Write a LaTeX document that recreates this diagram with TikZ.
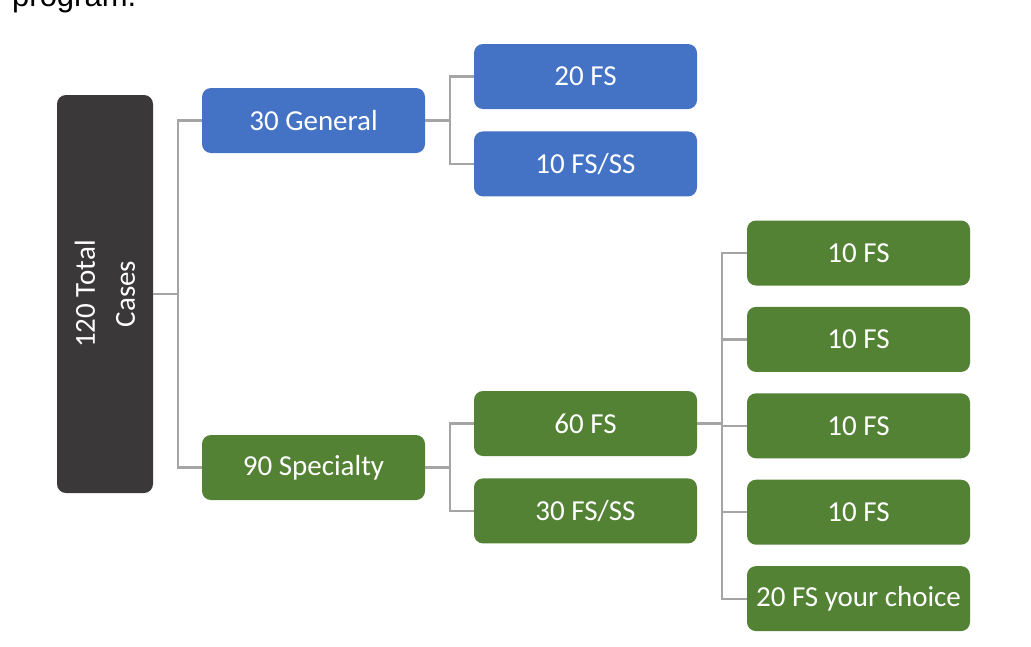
\documentclass[tikz,border=0pt]{standalone}
\usepackage{fontspec}
\setmainfont{Carlito}
\newfontfamily\captionfont{Liberation Sans}
\usetikzlibrary{positioning}
\definecolor{totalgray}{HTML}{3A3838}
\definecolor{genblue}{HTML}{4472C4}
\definecolor{specgreen}{HTML}{548235}
\definecolor{linkgray}{HTML}{A5A5A5}

\begin{document}
\begin{tikzpicture}[
  x=1pt,y=-1pt,
  box/.style={
    rounded corners=9pt,
    minimum width=223pt,
    minimum height=65pt,
    inner sep=0pt,
    text=white,
    font=\fontsize{29}{40}\selectfont,
    },
  genbox/.style={box,fill=genblue},
  specbox/.style={box,fill=specgreen},
  link/.style={draw=linkgray,line width=2.2pt}
  ]
  \clip (0,0) rectangle (1031,646);
  \node[anchor=base west,inner sep=0pt,font=\captionfont\fontsize{31}{36}\selectfont]
    (caption) at (12,6) {program.};

  \node[box,fill=totalgray,rotate=90,align=center,
    minimum width=398pt,minimum height=96pt] (total)
    at (105,294) {120 Total\\Cases};

  \node[genbox] (general) at (313.5,120.5) {30 General};
  \node[specbox] (special) at (313.5,467.5) {90 Specialty};

  \node[genbox] (g20) at (585.5,76.5) {20 FS};
  \node[genbox,below=22pt of g20] (g10) {10 FS/SS};

  \node[specbox] (s60) at (585.5,423.5) {60 FS};
  \node[specbox,below=22pt of s60] (s30) {30 FS/SS};

  \node[specbox] (r1) at (858.5,253) {10 FS};
  \node[specbox,below=21pt of r1] (r2) {10 FS};
  \node[specbox,below=21pt of r2] (r3) {10 FS};
  \node[specbox,below=21pt of r3] (r4) {10 FS};
  \node[specbox,below=21pt of r4] (r5) {20 FS your choice};

  % forks
  \coordinate (tfork) at ([xshift=25pt]total.south);
  \coordinate (gfork) at ([xshift=25pt]general.east);
  \coordinate (sfork) at ([xshift=25pt]special.east);
  \coordinate (rfork) at ([xshift=25pt]s60.east);

  \draw[link] (total.south) -- (tfork);
  \draw[link] (tfork) |- (general.west);
  \draw[link] (tfork) |- (special.west);

  \draw[link] (general.east) -- (gfork);
  \draw[link] (gfork) |- (g20.west);
  \draw[link] (gfork) |- (g10.west);

  \draw[link] (special.east) -- (sfork);
  \draw[link] (sfork) |- (s60.west);
  \draw[link] (sfork) |- (s30.west);

  \draw[link] (s60.east) -- (rfork);
  \foreach \k in {1,...,5}
    \draw[link] (rfork) |- (r\k.west);
\end{tikzpicture}
\end{document}
